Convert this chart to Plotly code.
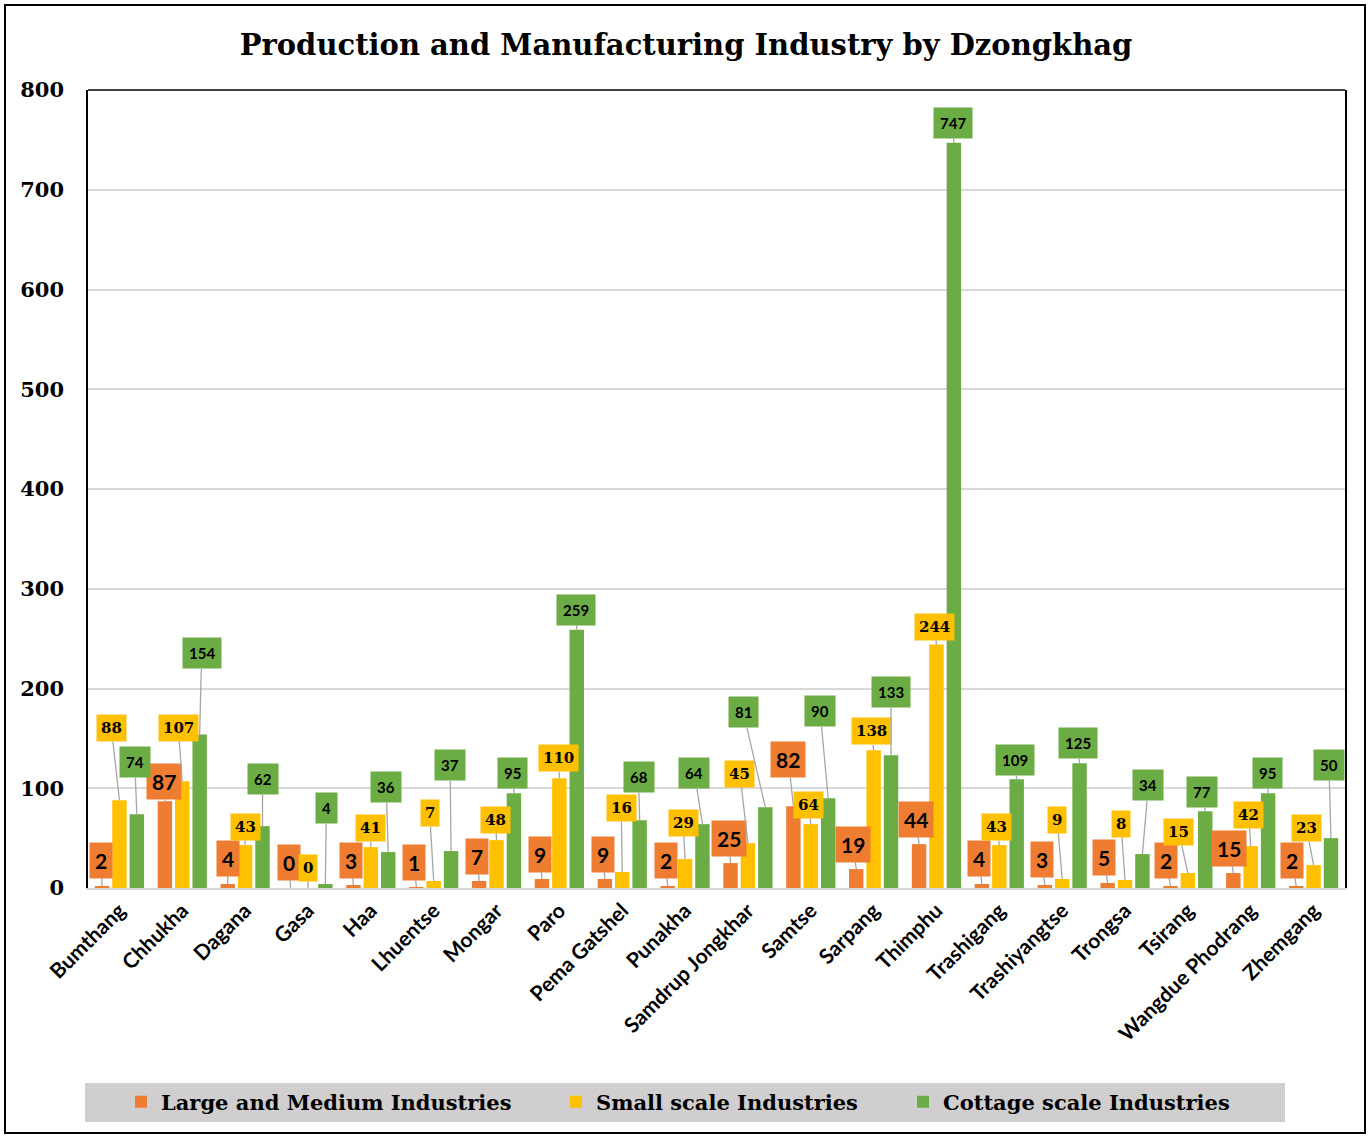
import plotly.graph_objects as go

# data
dzongkhags = ["Bumthang", "Chhukha", "Dagana", "Gasa", "Haa", "Lhuentse", "Mongar", "Paro",
              "Pema Gatshel", "Punakha", "Samdrup Jongkhar", "Samtse", "Sarpang", "Thimphu",
              "Trashigang", "Trashiyangtse", "Trongsa", "Tsirang", "Wangdue Phodrang", "Zhemgang"]
large_medium = [2, 87, 4, 0, 3, 1, 7, 9, 9, 2, 25, 82, 19, 44, 4, 3, 5, 2, 15, 2]
small_scale = [88, 107, 43, 0, 41, 7, 48, 110, 16, 29, 45, 64, 138, 244, 43, 9, 8, 15, 42, 23]
cottage_scale = [74, 154, 62, 4, 36, 37, 95, 259, 68, 64, 81, 90, 133, 747, 109, 125, 34, 77, 95, 50]
y_ticks = [0, 100, 200, 300, 400, 500, 600, 700, 800]

# callout offsets in pixels (label centre relative to bar top)
lm_offsets = [(-1, -26), (-1, -20), (0, -26), (-2, -26), (-2, -25), (-2, -25), (-2, -25), (-2, -25),
              (-2, -25), (-2, -26), (-2, -25), (-5, -47), (-3, -25), (-3, -25), (-3, -26), (-3, -26),
              (-4, -26), (-4, -26), (-4, -25), (-4, -26)]
ss_offsets = [(-8, -72), (-4, -53), (0, -18), (0, -20), (0, -19), (-4, -68), (-1, -20), (-1, -20),
              (-1, -64), (-2, -36), (-8, -69), (-2, -19), (-2, -19), (-2, -18), (-3, -18), (-5, -59),
              (-4, -56), (-9, -41), (-2, -31), (-7, -37)]
cs_offsets = [(-2, -52), (2, -81), (0, -47), (1, -76), (-2, -65), (-1, -86), (-1, -20), (-1, -20),
              (-1, -43), (-8, -51), (-22, -95), (-8, -87), (0, -63), (-1, -20), (-2, -19), (-2, -20),
              (6, -69), (-3, -19), (-1, -20), (-2, -73)]

W, H = 1372, 1136
ml, mr, mt, mb = 88, 27, 90, 248
pw, ph = W - ml - mr, H - mt - mb
bargap = 0.17

ORANGE, YELLOW, GREEN = "#EE7D32", "#FFC000", "#6BAC45"
SERIF = "DejaVu Serif"
SANS = "Lato"


def px_x(p):
    return (p - ml) / pw


def px_y(p):
    return (H - mb - p) / ph


fig = go.Figure()
series = [
    ("Large and Medium Industries", large_medium, ORANGE, lm_offsets,
     dict(family=SANS, size=21, color="black", weight="bold"), 5, "legend", 121),
    ("Small scale Industries", small_scale, YELLOW, ss_offsets,
     dict(family=SERIF, size=15, color="black", weight="bold"), 4, "legend2", 556),
    ("Cottage scale Industries", cottage_scale, GREEN, cs_offsets,
     dict(family=SANS, size=15, color="black", weight="bold"), 6, "legend3", 903),
]

slot = (1 - bargap) / 3
legends = {}
for k, (name, vals, color, offs, font, pad, leg, leg_x) in enumerate(series):
    fig.add_trace(go.Bar(x=dzongkhags, y=vals, name=name, marker_color=color,
                         marker_line_width=0, legend=leg))
    legends[leg] = dict(orientation="h", x=px_x(leg_x), xanchor="left", y=px_y(1102), yanchor="middle",
                        bgcolor="rgba(0,0,0,0)", itemwidth=30,
                        font=dict(family=SERIF, size=21, color="black", weight="bold"))
    for i, v in enumerate(vals):
        dx, dy = offs[i]
        fig.add_annotation(x=i + (k - 1) * slot, y=v, xref="x", yref="y", text=str(v),
                           showarrow=True, arrowhead=0, arrowwidth=1.3, arrowcolor="#A6A6A6",
                           ax=dx, ay=dy, bgcolor=color, borderpad=pad, font=font,
                           standoff=0)

shapes = [
    # outer frame
    dict(type="rect", xref="paper", yref="paper", x0=px_x(5), x1=px_x(1365), y0=px_y(1133), y1=px_y(5),
         line=dict(color="black", width=2), layer="below"),
    # legend background
    dict(type="rect", xref="paper", yref="paper", x0=px_x(85), x1=px_x(1285), y0=px_y(1122), y1=px_y(1083),
         line=dict(width=0), fillcolor="#D0CECE", layer="below"),
    # top of plot frame
    dict(type="line", xref="paper", yref="paper", x0=0, x1=1, y0=1, y1=1,
         line=dict(color="black", width=1.5)),
]

fig.update_layout(
    width=W, height=H,
    margin=dict(l=ml, r=mr, t=mt, b=mb),
    paper_bgcolor="white", plot_bgcolor="white",
    barmode="group", bargap=bargap, bargroupgap=0.17,
    title=dict(text="<b>Production and Manufacturing Industry by Dzongkhag</b>",
               x=0.5, xref="container", xanchor="center", y=1 - 45 / H, yanchor="middle",
               font=dict(family=SERIF, size=29, color="black")),
    xaxis=dict(tickangle=-45, tickfont=dict(family=SANS, size=21, color="black", weight="bold"),
               showline=True, linecolor="#D9D9D9", linewidth=2, showgrid=False, ticks=""),
    yaxis=dict(range=[0, 800], tickvals=y_ticks, showgrid=True, gridcolor="#D9D9D9", gridwidth=2,
               tickfont=dict(family=SERIF, size=21, color="black", weight="bold"),
               showline=True, linecolor="black", linewidth=1.5, mirror=True,
               ticklabelstandoff=18, zeroline=False),
    shapes=shapes,
    showlegend=True,
    **legends,
)

fig.write_html("out.html", config={"displayModeBar": False},
               post_script="document.body.style.margin='0';")
